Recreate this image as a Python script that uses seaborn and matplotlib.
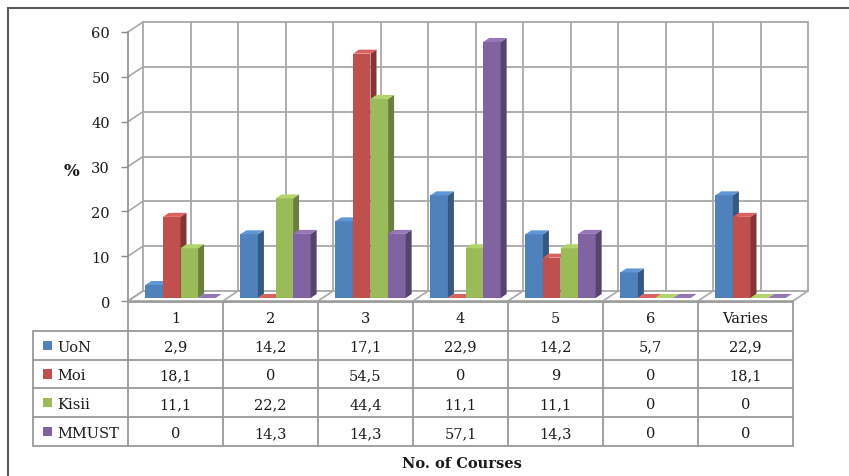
import numpy as np
import pandas as pd
import matplotlib
matplotlib.use("Agg")
import matplotlib.pyplot as plt
import matplotlib.colors as mcolors
from matplotlib.transforms import ScaledTranslation
from matplotlib.patches import Polygon, Rectangle
from matplotlib.lines import Line2D
import seaborn as sns

# data
courses = ['1', '2', '3', '4', '5', '6', 'Varies']
universities = ['UoN', 'Moi', 'Kisii', 'MMUST']
uon = [2.9, 14.2, 17.1, 22.9, 14.2, 5.7, 22.9]
moi = [18.1, 0, 54.5, 0, 9, 0, 18.1]
kisii = [11.1, 22.2, 44.4, 11.1, 11.1, 0, 0]
mmust = [0, 14.3, 14.3, 57.1, 14.3, 0, 0]
yticks = [0, 10, 20, 30, 40, 50, 60]
colors = ['#4F81BD', '#C0504D', '#9BBB59', '#8064A2']

series = [uon, moi, kisii, mmust]
df = pd.DataFrame({
    'course': np.tile(courses, len(universities)),
    'university': np.repeat(universities, len(courses)),
    'value': np.concatenate(series),
})

sns.set_theme(style='white')
plt.rcParams['font.family'] = ['DejaVu Serif']

W, H = 849, 477
fig = plt.figure(figsize=(W / 100, H / 100), dpi=100)

# front plane of the chart: x 128..793 px, y 33..302 px
ax = fig.add_axes([128 / W, (H - 302) / H, (793 - 128) / W, (302 - 33) / H])
sns.barplot(data=df, x='course', y='value', hue='university', order=courses,
            hue_order=universities, palette=colors, width=0.74, saturation=1,
            legend=False, ax=ax, linewidth=0)
ax.set_xlim(-0.5, len(courses) - 0.5)
ax.set_ylim(0, 60)
ax.set_xlabel('')
ax.set_ylabel('')
ax.set_xticks([])
ax.set_yticks(yticks)
ax.tick_params(axis='y', length=5, width=1, color='#8c8c8c', pad=8,
               labelsize=10.5, left=True, labelcolor='#1a1a1a')
for s in ['top', 'right', 'bottom']:
    ax.spines[s].set_visible(False)
ax.spines['left'].set_color('#8c8c8c')
ax.spines['left'].set_linewidth(1.2)
ax.patch.set_alpha(0)

px_x = (len(courses)) / (793 - 128)   # data units per pixel
px_y = 60 / (302 - 33)
xmin, xmax = -0.5, len(courses) - 0.5

# back wall offset
back = ax.transData + ScaledTranslation(15 / 100, 10 / 100, fig.dpi_scale_trans)
gc = '#a8a8a8'
for yv in yticks:
    ax.add_line(Line2D([xmin, xmax], [yv, yv], transform=back, color=gc, lw=1.3, zorder=0, clip_on=False))
    # side wall
    ax.add_line(Line2D([xmin, xmin + 15 * px_x], [yv, yv + 10 * px_y], color=gc, lw=1.2, zorder=0, clip_on=False))
for xv in np.arange(xmin, xmax + 0.01, 0.5):
    ax.add_line(Line2D([xv, xv], [0, 60], transform=back, color=gc, lw=1.3, zorder=0, clip_on=False))
# floor
for xv in np.arange(xmin, xmax + 0.01, 1.0):
    ax.add_line(Line2D([xv, xv + 15 * px_x], [0, 10 * px_y], color=gc, lw=1.2, zorder=0.5, clip_on=False))
ax.add_line(Line2D([xmin, xmax], [0, 0], color=gc, lw=1.3, zorder=5, clip_on=False))

# 3D faces of the bars
shift = ax.transData + ScaledTranslation(5 / 100, 3 / 100, fig.dpi_scale_trans)
ddx, ddy = 6 * px_x, 4 * px_y
bars = sorted(ax.patches, key=lambda p: p.get_x())
for i, p in enumerate(bars):
    x0, w, h = p.get_x(), p.get_width(), p.get_height()
    base = mcolors.to_rgb(p.get_facecolor())
    side = tuple(c * 0.68 for c in base)
    top = tuple(min(1, c * 1.08 + 0.04) for c in base)
    z = 2 + i * 0.01
    p.set_transform(shift)
    p.set_zorder(z)
    ax.add_patch(Polygon([(x0 + w, 0), (x0 + w + ddx, ddy), (x0 + w + ddx, h + ddy), (x0 + w, h)],
                         closed=True, facecolor=side, edgecolor='none', transform=shift, zorder=z, clip_on=False))
    ax.add_patch(Polygon([(x0, h), (x0 + w, h), (x0 + w + ddx, h + ddy), (x0 + ddx, h + ddy)],
                         closed=True, facecolor=top, edgecolor='none', transform=shift, zorder=z, clip_on=False))

# data table
tab = fig.add_axes([33 / W, (H - 447) / H, (793 - 33) / W, (447 - 303) / H])
tab.set_xlim(-1.5, len(courses) - 0.5)
tab.set_ylim(5, 0)
tab.axis('off')
tc = '#9a9a9a'
tab.add_line(Line2D([xmin, xmax], [0, 0], color=tc, lw=1.3, clip_on=False))
for r in range(1, 6):
    tab.add_line(Line2D([-1.5, xmax], [r, r], color=tc, lw=1.3, clip_on=False))
tab.add_line(Line2D([-1.5, -1.5], [1, 5], color=tc, lw=1.3, clip_on=False))
for xv in np.arange(xmin, xmax + 0.01, 1.0):
    tab.add_line(Line2D([xv, xv], [0, 5], color=tc, lw=1.3, clip_on=False))
for j, c in enumerate(courses):
    tab.text(j, 0.55, c, ha='center', va='center', fontsize=10.5, color='#1a1a1a')
for r, (name, vals, col) in enumerate(zip(universities, series, colors), start=1):
    tab.add_patch(Rectangle((-1.5 + 10 / 95, r + 0.5 - 0.16), 9 / 95, 0.32, facecolor=col, edgecolor='none'))
    tab.text(-1.5 + 24 / 95, r + 0.55, name, ha='left', va='center', fontsize=10.5, color='#1a1a1a')
    for j, v in enumerate(vals):
        tab.text(j, r + 0.55, f'{v:g}'.replace('.', ','), ha='center', va='center',
                 fontsize=10.5, color='#1a1a1a')

fig.text(462 / W, 1 - 464 / H, 'No. of Courses', ha='center', va='center',
         fontsize=10.5, fontweight='bold', color='#1a1a1a')
fig.text(72 / W, 1 - 172 / H, '%', ha='center', va='center',
         fontsize=12, fontweight='bold', color='#1a1a1a')

# outer frame
fig.add_artist(Line2D([8 / W, 8 / W], [0, 1 - 9 / H], transform=fig.transFigure, color='#5a5a5a', lw=1.5))
fig.add_artist(Line2D([8 / W, 1], [1 - 9 / H, 1 - 9 / H], transform=fig.transFigure, color='#5a5a5a', lw=1.5))

fig.savefig('out.png', dpi=100, facecolor='white')
